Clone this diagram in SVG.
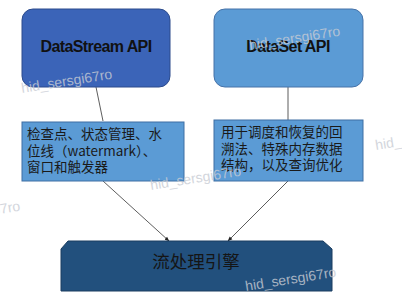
<svg xmlns="http://www.w3.org/2000/svg" width="402" height="298" viewBox="0 0 402 298">
<defs>
<style>
.title{font-family:"Liberation Sans",Arial,sans-serif;font-weight:bold;font-size:16px;letter-spacing:-0.6px;fill:#111;text-anchor:middle}
.cn{font-family:"Noto Sans CJK SC","Liberation Sans",sans-serif;font-size:13.5px;fill:#1a1a1a}
.box{fill:#5b9bd5;stroke:#3f6fa3;stroke-width:1}
.conn{stroke:#333;stroke-width:0.8;fill:none}
.wm{font-family:"Liberation Sans",Arial,sans-serif;font-size:14px;fill:#c8ccd4;opacity:0.8}
</style>
<marker id="arr" viewBox="0 0 10 10" refX="9" refY="5" markerWidth="6" markerHeight="6" orient="auto">
<path d="M0,1 L10,5 L0,9 z" fill="#222"/>
</marker>
</defs>
<rect width="402" height="298" fill="#ffffff"/>
<g id="connectors">
<line class="conn" x1="96" y1="87" x2="103" y2="121"/>
<line class="conn" x1="288" y1="87" x2="288" y2="120"/>
<line class="conn" x1="103" y1="181" x2="169" y2="241" marker-end="url(#arr)"/>
<line class="conn" x1="288" y1="181" x2="228" y2="241" marker-end="url(#arr)"/>
</g>
<g id="datastream">
<rect x="22" y="9" width="148" height="78" rx="11" fill="#3b64b8" stroke="#2c4b8c"/>
<text class="title" x="96" y="52">DataStream API</text>
</g>
<g id="dataset">
<rect x="214" y="9" width="149" height="78" rx="11" fill="#5b9bd5" stroke="#4672a8"/>
<text class="title" x="288" y="52">DataSet API</text>
</g>
<g id="left-note">
<rect class="box" x="22" y="122" width="162" height="59"/>
<text class="cn" x="27" y="139">检查点、状态管理、水</text>
<text class="cn" x="27" y="156">位线（watermark）、</text>
<text class="cn" x="27" y="172">窗口和触发器</text>
</g>
<g id="right-note">
<rect class="box" x="214" y="120" width="149" height="61"/>
<text class="cn" x="221" y="137">用于调度和恢复的回</text>
<text class="cn" x="221" y="154">溯法、特殊内存数据</text>
<text class="cn" x="221" y="170">结构，以及查询优化</text>
</g>
<g id="engine">
<path d="M68,241 L323,241 L332,249 L332,291 L61,291 L61,249 Z" fill="#22507d" stroke="#1a3d60"/>
<text x="196" y="268" font-family="'Noto Sans CJK SC',sans-serif" font-size="17.5" fill="#151515" text-anchor="middle">流处理引擎</text>
</g>
<g id="watermarks">
<text class="wm" x="22" y="93" transform="rotate(-9 22 93)">hid_sersgi67ro</text>
<text class="wm" x="250" y="50" transform="rotate(-9 250 50)">hid_sersgi67ro</text>
<text class="wm" x="151" y="190" transform="rotate(-9 151 190)">hid_sersgi67ro</text>
<text class="wm" x="246" y="291" transform="rotate(-9 246 291)">hid_sersgi67ro</text>
<text class="wm" x="376" y="150" transform="rotate(-9 376 150)">hid_</text>
<text class="wm" x="-70" y="225" transform="rotate(-9 -70 225)">hid_sersgi67ro</text>
</g>
</svg>
